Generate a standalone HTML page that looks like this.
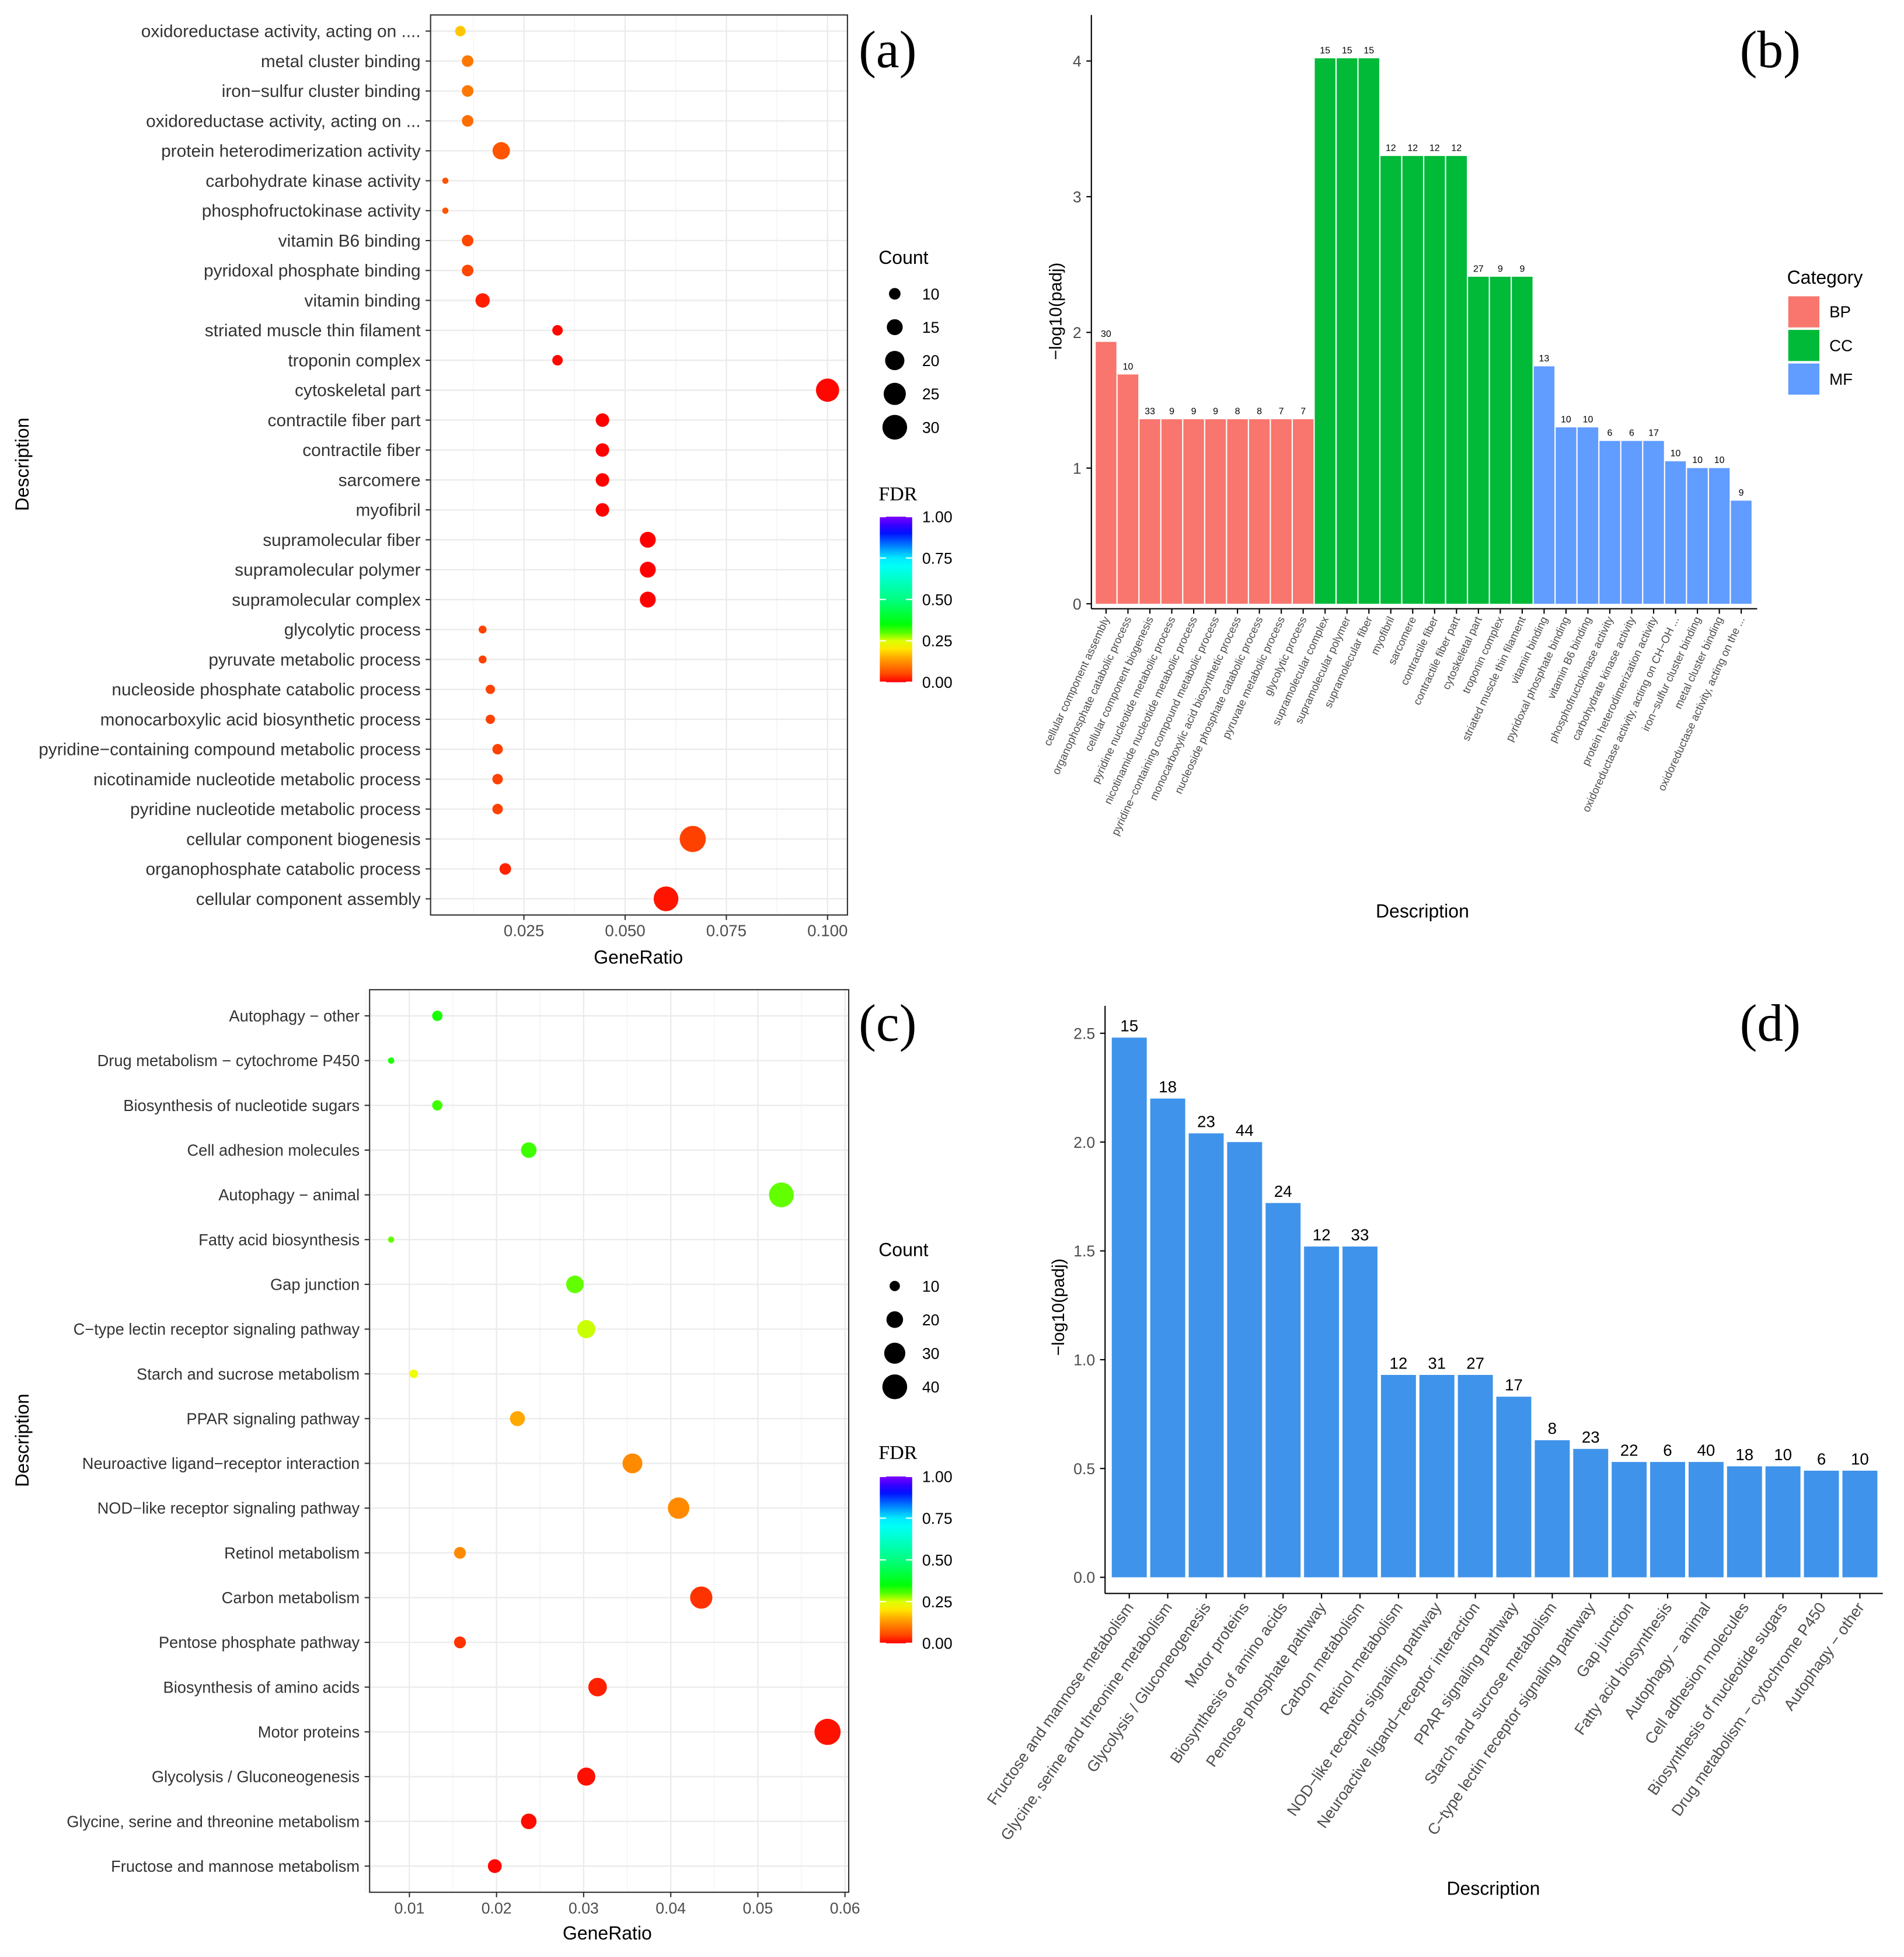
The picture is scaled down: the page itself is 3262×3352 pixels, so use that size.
<!DOCTYPE html>
<html><head><meta charset="utf-8"><style>
html,body{margin:0;padding:0;background:#fff;}
svg{display:block;font-family:"Liberation Sans",sans-serif;}
</style></head><body>
<svg id="root" width="3262" height="3352" viewBox="0 0 1530 1572" preserveAspectRatio="none" xmlns="http://www.w3.org/2000/svg"></svg>
<script>
// ---------- DATA ----------
const goTerms = ["cellular component assembly","organophosphate catabolic process","cellular component biogenesis","pyridine nucleotide metabolic process","nicotinamide nucleotide metabolic process","pyridine\u2212containing compound metabolic process","monocarboxylic acid biosynthetic process","nucleoside phosphate catabolic process","pyruvate metabolic process","glycolytic process","supramolecular complex","supramolecular polymer","supramolecular fiber","myofibril","sarcomere","contractile fiber","contractile fiber part","cytoskeletal part","troponin complex","striated muscle thin filament","vitamin binding","pyridoxal phosphate binding","vitamin B6 binding","phosphofructokinase activity","carbohydrate kinase activity","protein heterodimerization activity","oxidoreductase activity, acting on CH\u2212OH ...","iron\u2212sulfur cluster binding","metal cluster binding","oxidoreductase activity, acting on the ..."];
const goDotLabels = ["cellular component assembly","organophosphate catabolic process","cellular component biogenesis","pyridine nucleotide metabolic process","nicotinamide nucleotide metabolic process","pyridine\u2212containing compound metabolic process","monocarboxylic acid biosynthetic process","nucleoside phosphate catabolic process","pyruvate metabolic process","glycolytic process","supramolecular complex","supramolecular polymer","supramolecular fiber","myofibril","sarcomere","contractile fiber","contractile fiber part","cytoskeletal part","troponin complex","striated muscle thin filament","vitamin binding","pyridoxal phosphate binding","vitamin B6 binding","phosphofructokinase activity","carbohydrate kinase activity","protein heterodimerization activity","oxidoreductase activity, acting on ...","iron\u2212sulfur cluster binding","metal cluster binding","oxidoreductase activity, acting on ...."];
const goCategory = ["BP","BP","BP","BP","BP","BP","BP","BP","BP","BP","CC","CC","CC","CC","CC","CC","CC","CC","CC","CC","MF","MF","MF","MF","MF","MF","MF","MF","MF","MF"];
const goCounts = [30,10,33,9,9,9,8,8,7,7,15,15,15,12,12,12,12,27,9,9,13,10,10,6,6,17,10,10,10,9];
const goLogP = [1.93,1.69,1.36,1.36,1.36,1.36,1.36,1.36,1.36,1.36,4.02,4.02,4.02,3.30,3.30,3.30,3.30,2.41,2.41,2.41,1.75,1.30,1.30,1.20,1.20,1.20,1.05,1.00,1.00,0.76];
const goGeneRatio = [0.0601,0.0204,0.0667,0.0185,0.0185,0.0185,0.0167,0.0167,0.0148,0.0148,0.0556,0.0556,0.0556,0.0444,0.0444,0.0444,0.0444,0.1000,0.0333,0.0333,0.0148,0.0111,0.0111,0.0056,0.0056,0.0194,0.0111,0.0111,0.0111,0.0093];
const goXTicks = [0.025,0.050,0.075,0.100];
const goXTickLabels = ["0.025","0.050","0.075","0.100"];
const goYTicks = [0,1,2,3,4];
const keggTerms = ["Fructose and mannose metabolism","Glycine, serine and threonine metabolism","Glycolysis / Gluconeogenesis","Motor proteins","Biosynthesis of amino acids","Pentose phosphate pathway","Carbon metabolism","Retinol metabolism","NOD\u2212like receptor signaling pathway","Neuroactive ligand\u2212receptor interaction","PPAR signaling pathway","Starch and sucrose metabolism","C\u2212type lectin receptor signaling pathway","Gap junction","Fatty acid biosynthesis","Autophagy \u2212 animal","Cell adhesion molecules","Biosynthesis of nucleotide sugars","Drug metabolism \u2212 cytochrome P450","Autophagy \u2212 other"];
const keggCounts = [15,18,23,44,24,12,33,12,31,27,17,8,23,22,6,40,18,10,6,10];
const keggLogP = [2.48,2.20,2.04,2.00,1.72,1.52,1.52,0.93,0.93,0.93,0.83,0.63,0.59,0.53,0.53,0.53,0.51,0.51,0.49,0.49];
const keggGeneRatio = [0.0198,0.0237,0.0303,0.0580,0.0316,0.0158,0.0435,0.0158,0.0409,0.0356,0.0224,0.0105,0.0303,0.0290,0.0079,0.0527,0.0237,0.0132,0.0079,0.0132];
const keggXTicks = [0.01,0.02,0.03,0.04,0.05,0.06];
const keggXTickLabels = ["0.01","0.02","0.03","0.04","0.05","0.06"];
const keggYTicks = [0,0.5,1.0,1.5,2.0,2.5];
const keggYTickLabels = ["0.0","0.5","1.0","1.5","2.0","2.5"];
const sizeLegendA = [10,15,20,25,30];
const sizeLegendC = [10,20,30,40];
const fdrTicks = [0,0.25,0.5,0.75,1];
const fdrTickLabels = ["0.00","0.25","0.50","0.75","1.00"];

// ---------- HELPERS ----------
const NS="http://www.w3.org/2000/svg";
const root=document.getElementById('root');
function mk(tag,attrs,parent,txt){const e=document.createElementNS(NS,tag);for(const k in attrs)e.setAttribute(k,attrs[k]);if(txt!==undefined)e.textContent=txt;(parent||root).appendChild(e);return e;}
function grp(name){const g=mk('g',{});return g;}
const hueF=[0,0.03,0.12,0.15,0.25,0.30,0.33,0.5,0.75,1];
const hueH=[0,12,33,40,68,100,118,150,185,270];
function fdrColor(f){let h=hueH[hueH.length-1];for(let i=0;i<hueF.length-1;i++){if(f<=hueF[i+1]){const t=(f-hueF[i])/(hueF[i+1]-hueF[i]);h=hueH[i]+t*(hueH[i+1]-hueH[i]);break;}}return 'hsl('+h.toFixed(1)+',100%,50%)';}
function radius(c,min,max){const r0=2.5,r1=10.5;const t=(c-min)/(max-min);return Math.sqrt(r0*r0+t*(r1*r1-r0*r0));}
const catColor={BP:"#F8766D",CC:"#00BA38",MF:"#619CFF"};

function drawFdrLegend(g,x,titleY,top,bot){
 const id='grad'+titleY;
 const d=mk('defs',{},g);
 const lg=mk('linearGradient',{id:id,x1:0,y1:1,x2:0,y2:0},d);
 for(let i=0;i<=20;i++){mk('stop',{offset:(i/20),'stop-color':fdrColor(i/20)},lg);}
 const tt=mk('text',{x:x,y:titleY,'font-size':16,'font-family':'"Liberation Serif",serif'},g,'FDR');
 
 
 const r=mk('rect',{x:x+1,y:top,width:26,height:bot-top,fill:'url(#'+id+')'},g);
 
 
 for(let i=0;i<fdrTicks.length;i++){const y=bot-(fdrTicks[i])*(bot-top);
  mk('line',{x1:x+1,x2:x+6,y1:y,y2:y,stroke:'#fff'},g);mk('line',{x1:x+22,x2:x+27,y1:y,y2:y,stroke:'#fff'},g);
  mk('text',{x:x+35,y:y+4.5,'font-size':12.5},g,fdrTickLabels[i]);}
}

// ---------- PANEL A ----------
(function(){
 const g=grp('panel-a');
 const L=346,R=681,T=12,B=735;
 const xs=v=>421+(v-0.025)*(244/0.075);
 const n=goDotLabels.length;
 const ys=i=>722-i*(697/(n-1));
 for(let i=0;i<goXTicks.length;i++){const v=goXTicks[i]-0.0125;mk('line',{x1:xs(v),x2:xs(v),y1:T,y2:B,stroke:'#f2f2f2','stroke-width':0.6},g);}
 for(let i=0;i<goXTicks.length;i++){mk('line',{x1:xs(goXTicks[i]),x2:xs(goXTicks[i]),y1:T,y2:B,stroke:'#ebebeb','stroke-width':1.1},g);}
 for(let i=0;i<n;i++){mk('line',{x1:L,x2:R,y1:ys(i),y2:ys(i),stroke:'#ebebeb','stroke-width':1.1},g);}
 mk('rect',{x:L,y:T,width:R-L,height:B-T,fill:'none',stroke:'#333','stroke-width':1},g);
 const mn=Math.min(...goCounts),mx=Math.max(...goCounts);
 for(let i=0;i<n;i++){
  const y=ys(i);
  const t=mk('text',{x:L-8,y:y+4.8,'text-anchor':'end','font-size':14,fill:'#333'},g,goDotLabels[i]);
  
  
  mk('line',{x1:L-4,x2:L,y1:y,y2:y,stroke:'#333'},g);
  const fdr=Math.pow(10,-goLogP[i]);
  const c=mk('circle',{cx:xs(goGeneRatio[i]),cy:y,r:radius(goCounts[i],mn,mx),fill:fdrColor(fdr)},g);
  
  
 }
 for(let i=0;i<goXTicks.length;i++){const x=xs(goXTicks[i]);mk('line',{x1:x,x2:x,y1:B,y2:B+4,stroke:'#333'},g);
  const t=mk('text',{x:x,y:B+17,'text-anchor':'middle','font-size':13,fill:'#4d4d4d'},g,goXTickLabels[i]);
  
  }
 const xt=mk('text',{x:513,y:774,'text-anchor':'middle','font-size':15,fill:'#000'},g,'GeneRatio');
 
 
 const yt=mk('text',{x:0,y:0,transform:'translate(23,373) rotate(-90)','text-anchor':'middle','font-size':15},g,'Description');
 
 
 mk('text',{x:706,y:212,'font-size':15},g,'Count');
 for(let i=0;i<sizeLegendA.length;i++){const y=236+i*26.8;
  mk('circle',{cx:719,cy:y,r:radius(sizeLegendA[i],mn,mx),fill:'#000'},g);
  mk('text',{x:741,y:y+4.5,'font-size':12.5,fill:'#000'},g,String(sizeLegendA[i]));}
 drawFdrLegend(g,706,402,415,548);
 const pl=mk('text',{x:690,y:54,'font-size':42,'font-family':'"Liberation Serif",serif'},g,'(a)');
 
 
})();

// ---------- PANEL B ----------
(function(){
 const g=grp('panel-b');
 const L=877,R=1412,Y0=485;
 const ys=v=>Y0-v*109;
 const n=goTerms.length;
 const step=(1408-880)/n;
 const bx=i=>880+i*step;
 mk('line',{x1:L,x2:L,y1:12,y2:Y0+4,stroke:'#000'},g);
 mk('line',{x1:L,x2:R,y1:Y0+4,y2:Y0+4,stroke:'#000'},g);
 for(let i=0;i<goYTicks.length;i++){const y=ys(goYTicks[i]);mk('line',{x1:L-4,x2:L,y1:y,y2:y,stroke:'#000'},g);
  mk('text',{x:L-8,y:y+4.5,'text-anchor':'end','font-size':12.5,fill:'#4d4d4d'},g,String(goYTicks[i]));}
 for(let i=0;i<n;i++){
  const x=bx(i),y=ys(goLogP[i]);
  const b=mk('rect',{x:x+0.5,y:y,width:step-1,height:Y0-y,fill:catColor[goCategory[i]]},g);
  
  
  mk('text',{x:x+step/2,y:y-4,'text-anchor':'middle','font-size':7.5},g,String(goCounts[i]));
  mk('line',{x1:x+step/2,x2:x+step/2,y1:Y0+4,y2:Y0+8,stroke:'#000'},g);
  const t=mk('text',{x:0,y:0,transform:'translate('+(x+step/2+3)+','+(Y0+12)+') rotate(-65)','text-anchor':'end','font-size':8.8,fill:'#4d4d4d'},g,goTerms[i]);
  
  
 }
 mk('text',{x:1143,y:737,'text-anchor':'middle','font-size':15},g,'Description');
 mk('text',{x:0,y:0,transform:'translate(853,250) rotate(-90)','text-anchor':'middle','font-size':14},g,'\u2212log10(padj)');
 mk('text',{x:1436,y:228,'font-size':15},g,'Category');
 const cats=["BP","CC","MF"];
 for(let i=0;i<3;i++){const y=238+i*27;
  const r=mk('rect',{x:1437,y:y,width:25,height:25,fill:catColor[cats[i]]},g);
  
  
  mk('text',{x:1470,y:y+17,'font-size':13},g,cats[i]);}
 mk('text',{x:1398,y:54,'font-size':42,'font-family':'"Liberation Serif",serif'},g,'(b)');
})();

// ---------- PANEL C ----------
(function(){
 const g=grp('panel-c');
 const L=297,R=682,T=795,B=1520;
 const xs=v=>329+(v-0.01)*7000;
 const n=keggTerms.length;
 const ys=i=>1499-i*(683/(n-1));
 for(let i=0;i<keggXTicks.length;i++){const v=keggXTicks[i]-0.005;mk('line',{x1:xs(v),x2:xs(v),y1:T,y2:B,stroke:'#f2f2f2','stroke-width':0.6},g);}
 for(let i=0;i<keggXTicks.length;i++){mk('line',{x1:xs(keggXTicks[i]),x2:xs(keggXTicks[i]),y1:T,y2:B,stroke:'#ebebeb','stroke-width':1.1},g);}
 for(let i=0;i<n;i++){mk('line',{x1:L,x2:R,y1:ys(i),y2:ys(i),stroke:'#ebebeb','stroke-width':1.1},g);}
 mk('rect',{x:L,y:T,width:R-L,height:B-T,fill:'none',stroke:'#333','stroke-width':1},g);
 const mn=Math.min(...keggCounts),mx=Math.max(...keggCounts);
 for(let i=0;i<n;i++){const y=ys(i);
  const t=mk('text',{x:L-8,y:y+4.5,'text-anchor':'end','font-size':12.8,fill:'#333'},g,keggTerms[i]);
  
  
  mk('line',{x1:L-4,x2:L,y1:y,y2:y,stroke:'#333'},g);
  const c=mk('circle',{cx:xs(keggGeneRatio[i]),cy:y,r:radius(keggCounts[i],mn,mx),fill:fdrColor(Math.pow(10,-keggLogP[i]))},g);
  
  }
 for(let i=0;i<keggXTicks.length;i++){const x=xs(keggXTicks[i]);mk('line',{x1:x,x2:x,y1:B,y2:B+4,stroke:'#333'},g);
  mk('text',{x:x,y:B+17,'text-anchor':'middle','font-size':12.5,fill:'#4d4d4d'},g,keggXTickLabels[i]);}
 mk('text',{x:488,y:1558,'text-anchor':'middle','font-size':15},g,'GeneRatio');
 mk('text',{x:0,y:0,transform:'translate(23,1157) rotate(-90)','text-anchor':'middle','font-size':15},g,'Description');
 mk('text',{x:706,y:1009,'font-size':15},g,'Count');
 for(let i=0;i<sizeLegendC.length;i++){const y=1033+i*27;
  mk('circle',{cx:719,cy:y,r:radius(sizeLegendC[i],mn,mx),fill:'#000'},g);
  mk('text',{x:741,y:y+4.5,'font-size':12.5},g,String(sizeLegendC[i]));}
 drawFdrLegend(g,706,1172,1186,1320);
 mk('text',{x:690,y:836,'font-size':42,'font-family':'"Liberation Serif",serif'},g,'(c)');
})();

// ---------- PANEL D ----------
(function(){
 const g=grp('panel-d');
 const L=888,R=1513,Y0=1267;
 const ys=v=>Y0-v*174.8;
 const n=keggTerms.length;
 const step=(1510-892)/n;
 const bx=i=>892+i*step;
 mk('line',{x1:L,x2:L,y1:808,y2:Y0+13,stroke:'#000'},g);
 mk('line',{x1:L,x2:R,y1:Y0+13,y2:Y0+13,stroke:'#000'},g);
 for(let i=0;i<keggYTicks.length;i++){const y=ys(keggYTicks[i]);mk('line',{x1:L-4,x2:L,y1:y,y2:y,stroke:'#000'},g);
  mk('text',{x:L-8,y:y+4.5,'text-anchor':'end','font-size':12.5,fill:'#4d4d4d'},g,keggYTickLabels[i]);}
 for(let i=0;i<n;i++){const x=bx(i),y=ys(keggLogP[i]);
  const b=mk('rect',{x:x+1.4,y:y,width:step-2.8,height:Y0-y,fill:'#3F93EA'},g);
  
  
  mk('text',{x:x+step/2,y:y-5,'text-anchor':'middle','font-size':13},g,String(keggCounts[i]));
  mk('line',{x1:x+step/2,x2:x+step/2,y1:Y0+13,y2:Y0+17,stroke:'#000'},g);
  const t=mk('text',{x:0,y:0,transform:'translate('+(x+step/2+4)+','+(Y0+24)+') rotate(-55)','text-anchor':'end','font-size':12.5,fill:'#4d4d4d'},g,keggTerms[i]);
  
  }
 mk('text',{x:1200,y:1522,'text-anchor':'middle','font-size':15},g,'Description');
 mk('text',{x:0,y:0,transform:'translate(855,1050) rotate(-90)','text-anchor':'middle','font-size':14},g,'\u2212log10(padj)');
 mk('text',{x:1398,y:836,'font-size':42,'font-family':'"Liberation Serif",serif'},g,'(d)');
})();
</script>
</body></html>
